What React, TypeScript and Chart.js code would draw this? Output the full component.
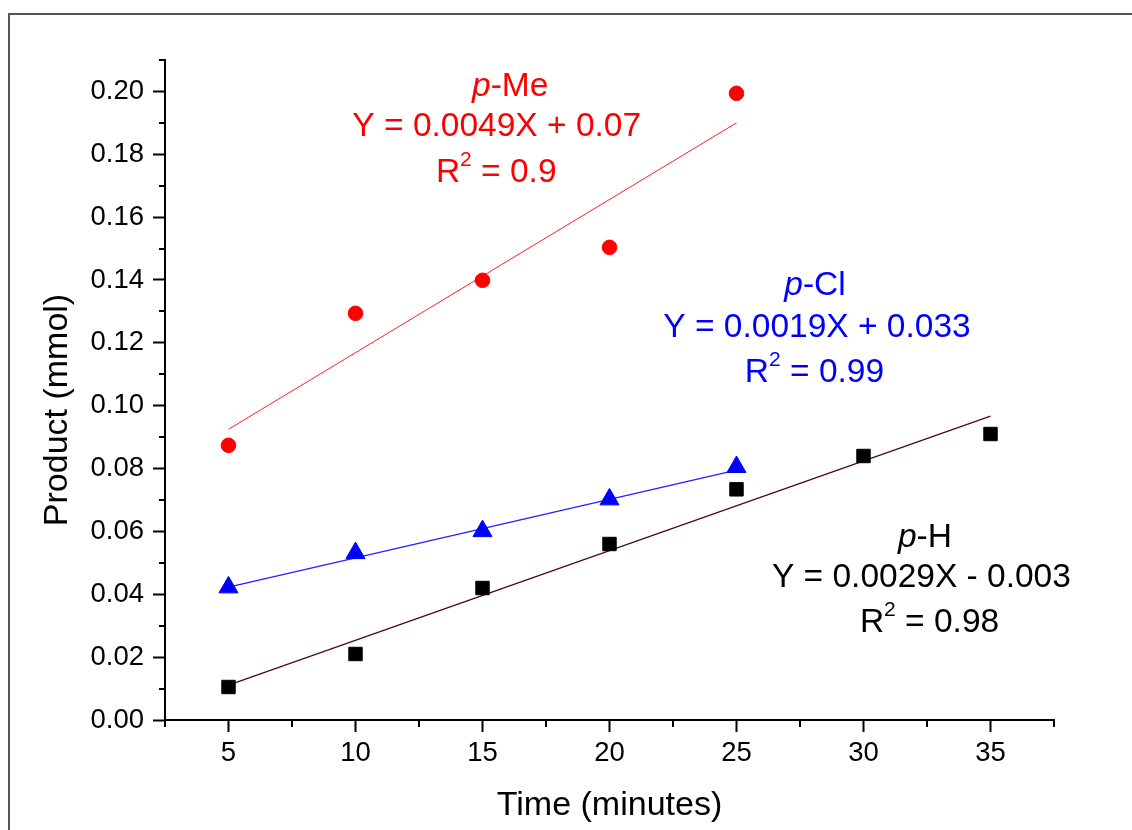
import React, { useEffect, useRef } from 'react';
import { Chart, registerables } from 'chart.js';

Chart.register(...registerables);

// ---------- data ----------
const pHTimes = [5, 10, 15, 20, 25, 30, 35];
const pHValues = [0.0105, 0.021, 0.042, 0.056, 0.0734, 0.084, 0.091];
const pClTimes = [5, 10, 15, 20, 25];
const pClValues = [0.0422, 0.0531, 0.0601, 0.0702, 0.0805];
const pMeTimes = [5, 10, 15, 20, 25];
const pMeValues = [0.0874, 0.1294, 0.1399, 0.1504, 0.1994];

const pHFitTimes = [5, 35];
const pHFitValues = [0.0111, 0.0967];
const pClFitTimes = [5, 25];
const pClFitValues = [0.0423, 0.0795];
const pMeFitTimes = [5, 25];
const pMeFitValues = [0.0925, 0.19];

const xTickValues = [5, 10, 15, 20, 25, 30, 35];
const xMinorTickValues = [2.5, 7.5, 12.5, 17.5, 22.5, 27.5, 32.5, 37.5];
const yTickValues = [0, 0.02, 0.04, 0.06, 0.08, 0.1, 0.12, 0.14, 0.16, 0.18, 0.2];
const yMinorTickValues = [0.01, 0.03, 0.05, 0.07, 0.09, 0.11, 0.13, 0.15, 0.17, 0.19, 0.21];

const xTitle = 'Time (minutes)';
const yTitle = 'Product (mmol)';

type Seg = { text: string; italic?: boolean; sup?: boolean };
type AnnLine = { segs: Seg[]; x: number; y: number };
type Ann = { color: string; lines: AnnLine[] };

const annotations: Ann[] = [
  {
    color: '#ff0000',
    lines: [
      { segs: [{ text: 'p', italic: true }, { text: '-Me' }], x: 16.09, y: 0.1987 },
      { segs: [{ text: 'Y = 0.0049X + 0.07' }], x: 15.56, y: 0.1857 },
      { segs: [{ text: 'R' }, { text: '2', sup: true }, { text: ' = 0.9' }], x: 15.54, y: 0.1711 },
    ],
  },
  {
    color: '#0000ff',
    lines: [
      { segs: [{ text: 'p', italic: true }, { text: '-Cl' }], x: 28.09, y: 0.1351 },
      { segs: [{ text: 'Y = 0.0019X + 0.033' }], x: 28.17, y: 0.1218 },
      { segs: [{ text: 'R' }, { text: '2', sup: true }, { text: ' = 0.99' }], x: 28.07, y: 0.1075 },
    ],
  },
  {
    color: '#000000',
    lines: [
      { segs: [{ text: 'p', italic: true }, { text: '-H' }], x: 32.42, y: 0.055 },
      { segs: [{ text: 'Y = 0.0029X - 0.003' }], x: 32.28, y: 0.0423 },
      { segs: [{ text: 'R' }, { text: '2', sup: true }, { text: ' = 0.98' }], x: 32.6, y: 0.028 },
    ],
  },
];

const FONT = "'Liberation Sans', Arial, Helvetica, sans-serif";

const toPts = (xs: number[], ys: number[]) => xs.map((x, i) => ({ x, y: ys[i] }));

const minorTicksPlugin = {
  id: 'minorTicks',
  afterDraw(chart: any) {
    const { ctx, scales } = chart;
    const xs = scales.x;
    const ys = scales.y;
    ctx.save();
    ctx.strokeStyle = '#000';
    ctx.lineWidth = 2;
    ctx.beginPath();
    const bottom = Math.round(ys.bottom);
    xMinorTickValues.forEach((v) => {
      const px = Math.round(xs.getPixelForValue(v));
      ctx.moveTo(px, bottom);
      ctx.lineTo(px, bottom + 7);
    });
    const left = Math.round(xs.left);
    yMinorTickValues.forEach((v) => {
      const py = Math.round(ys.getPixelForValue(v));
      ctx.moveTo(left, py);
      ctx.lineTo(left - 6, py);
    });
    ctx.stroke();
    ctx.restore();
  },
};

const yTitlePlugin = {
  id: 'yTitle',
  afterDraw(chart: any) {
    const { ctx, chartArea } = chart;
    ctx.save();
    ctx.translate(58, (chartArea.top + chartArea.bottom) / 2 + 20);
    ctx.rotate(-Math.PI / 2);
    ctx.font = `34px ${FONT}`;
    ctx.fillStyle = '#000';
    ctx.textAlign = 'center';
    ctx.textBaseline = 'middle';
    ctx.fillText(yTitle, 0, 0);
    ctx.restore();
  },
};

const annotationPlugin = {
  id: 'fitLabels',
  afterDatasetsDraw(chart: any) {
    const { ctx, scales } = chart;
    const size = 33.5;
    const supSize = 21;
    ctx.save();
    ctx.textAlign = 'left';
    ctx.textBaseline = 'alphabetic';
    annotations.forEach((a) => {
      ctx.fillStyle = a.color;
      a.lines.forEach((ln) => {
        const cx = scales.x.getPixelForValue(ln.x);
        const by = scales.y.getPixelForValue(ln.y);
        const parts = ln.segs.map((s) => {
          const f = `${s.italic ? 'italic ' : ''}${s.sup ? supSize : size}px ${FONT}`;
          ctx.font = f;
          return { s, f, w: ctx.measureText(s.text).width };
        });
        const total = parts.reduce((acc, p) => acc + p.w, 0);
        let x = cx - total / 2;
        parts.forEach((p) => {
          ctx.font = p.f;
          ctx.fillText(p.s.text, x, by - (p.s.sup ? 16 : 0));
          x += p.w;
        });
      });
    });
    ctx.restore();
  },
};

export default function App() {
  const ref = useRef<HTMLCanvasElement | null>(null);

  useEffect(() => {
    if (!ref.current) return;
    const chart = new Chart(ref.current, {
      type: 'scatter',
      data: {
        datasets: [
          {
            label: 'p-H',
            data: toPts(pHTimes, pHValues),
            pointStyle: 'rect',
            pointRadius: 9.5,
            backgroundColor: '#000',
            borderColor: '#000',
            borderWidth: 1,
            showLine: false,
            order: 0,
          },
          {
            label: 'p-Cl',
            data: toPts(pClTimes, pClValues),
            pointStyle: 'triangle',
            pointRadius: 11,
            backgroundColor: '#0000ff',
            borderColor: '#0000ff',
            borderWidth: 1,
            showLine: false,
            order: 0,
          },
          {
            label: 'p-Me',
            data: toPts(pMeTimes, pMeValues),
            pointStyle: 'circle',
            pointRadius: 7.3,
            backgroundColor: '#ff0000',
            borderColor: '#ff0000',
            borderWidth: 1,
            showLine: false,
            order: 0,
          },
          {
            label: 'p-H fit',
            data: toPts(pHFitTimes, pHFitValues),
            showLine: true,
            pointRadius: 0,
            borderColor: '#4a0a0a',
            borderWidth: 1.2,
            order: 1,
          },
          {
            label: 'p-Cl fit',
            data: toPts(pClFitTimes, pClFitValues),
            showLine: true,
            pointRadius: 0,
            borderColor: '#2020ff',
            borderWidth: 1.2,
            order: 1,
          },
          {
            label: 'p-Me fit',
            data: toPts(pMeFitTimes, pMeFitValues),
            showLine: true,
            pointRadius: 0,
            borderColor: '#ff2020',
            borderWidth: 1,
            order: 1,
          },
        ],
      },
      options: {
        animation: false,
        responsive: false,
        devicePixelRatio: 1,
        events: [],
        layout: { padding: { top: 60, right: 78, left: 0, bottom: 0 } },
        plugins: {
          legend: { display: false },
          tooltip: { enabled: false },
        },
        scales: {
          x: {
            type: 'linear',
            min: 2.5,
            max: 37.5,
            afterBuildTicks: (s: any) => {
              s.ticks = xTickValues.map((v) => ({ value: v }));
            },
            afterFit: (s: any) => {
              s.height = 110;
              s.paddingLeft = 0;
              s.paddingRight = 0;
            },
            ticks: {
              color: '#000',
              font: { family: FONT, size: 27.5 },
              padding: 5,
              maxRotation: 0,
              autoSkip: false,
              callback: (v: any) => String(v),
            },
            grid: {
              display: true,
              drawOnChartArea: false,
              drawTicks: true,
              tickLength: 12,
              tickWidth: 2,
              color: '#000',
            },
            border: { display: true, color: '#000', width: 2 },
            title: {
              display: true,
              text: xTitle,
              color: '#000',
              font: { family: FONT, size: 34 },
              padding: { top: 0, bottom: 4 },
            },
          },
          y: {
            type: 'linear',
            min: 0,
            max: 0.21,
            afterBuildTicks: (s: any) => {
              s.ticks = yTickValues.map((v) => ({ value: v }));
            },
            afterFit: (s: any) => {
              s.width = 165;
              s.paddingTop = 0;
              s.paddingBottom = 0;
            },
            ticks: {
              color: '#000',
              font: { family: FONT, size: 27.5 },
              padding: 9,
              autoSkip: false,
              callback: (v: any) => Number(v).toFixed(2),
            },
            grid: {
              display: true,
              drawOnChartArea: false,
              drawTicks: true,
              tickLength: 12,
              tickWidth: 2,
              color: '#000',
            },
            border: { display: true, color: '#000', width: 2 },
            title: { display: false, text: yTitle },
          },
        },
      },
      plugins: [minorTicksPlugin, annotationPlugin, yTitlePlugin],
    } as any);
    return () => chart.destroy();
  }, []);

  return (
    <div
      style={{
        position: 'fixed',
        left: 0,
        top: 0,
        width: 1132,
        height: 830,
        overflow: 'hidden',
        background: '#fff',
      }}
    >
      <div
        style={{
          position: 'absolute',
          left: 8,
          top: 13,
          width: 1300,
          height: 1000,
          border: '2px solid #555',
          boxSizing: 'border-box',
        }}
      />
      <canvas
        ref={ref}
        width={1132}
        height={830}
        style={{ position: 'absolute', left: 0, top: 0, width: 1132, height: 830 }}
      />
    </div>
  );
}
